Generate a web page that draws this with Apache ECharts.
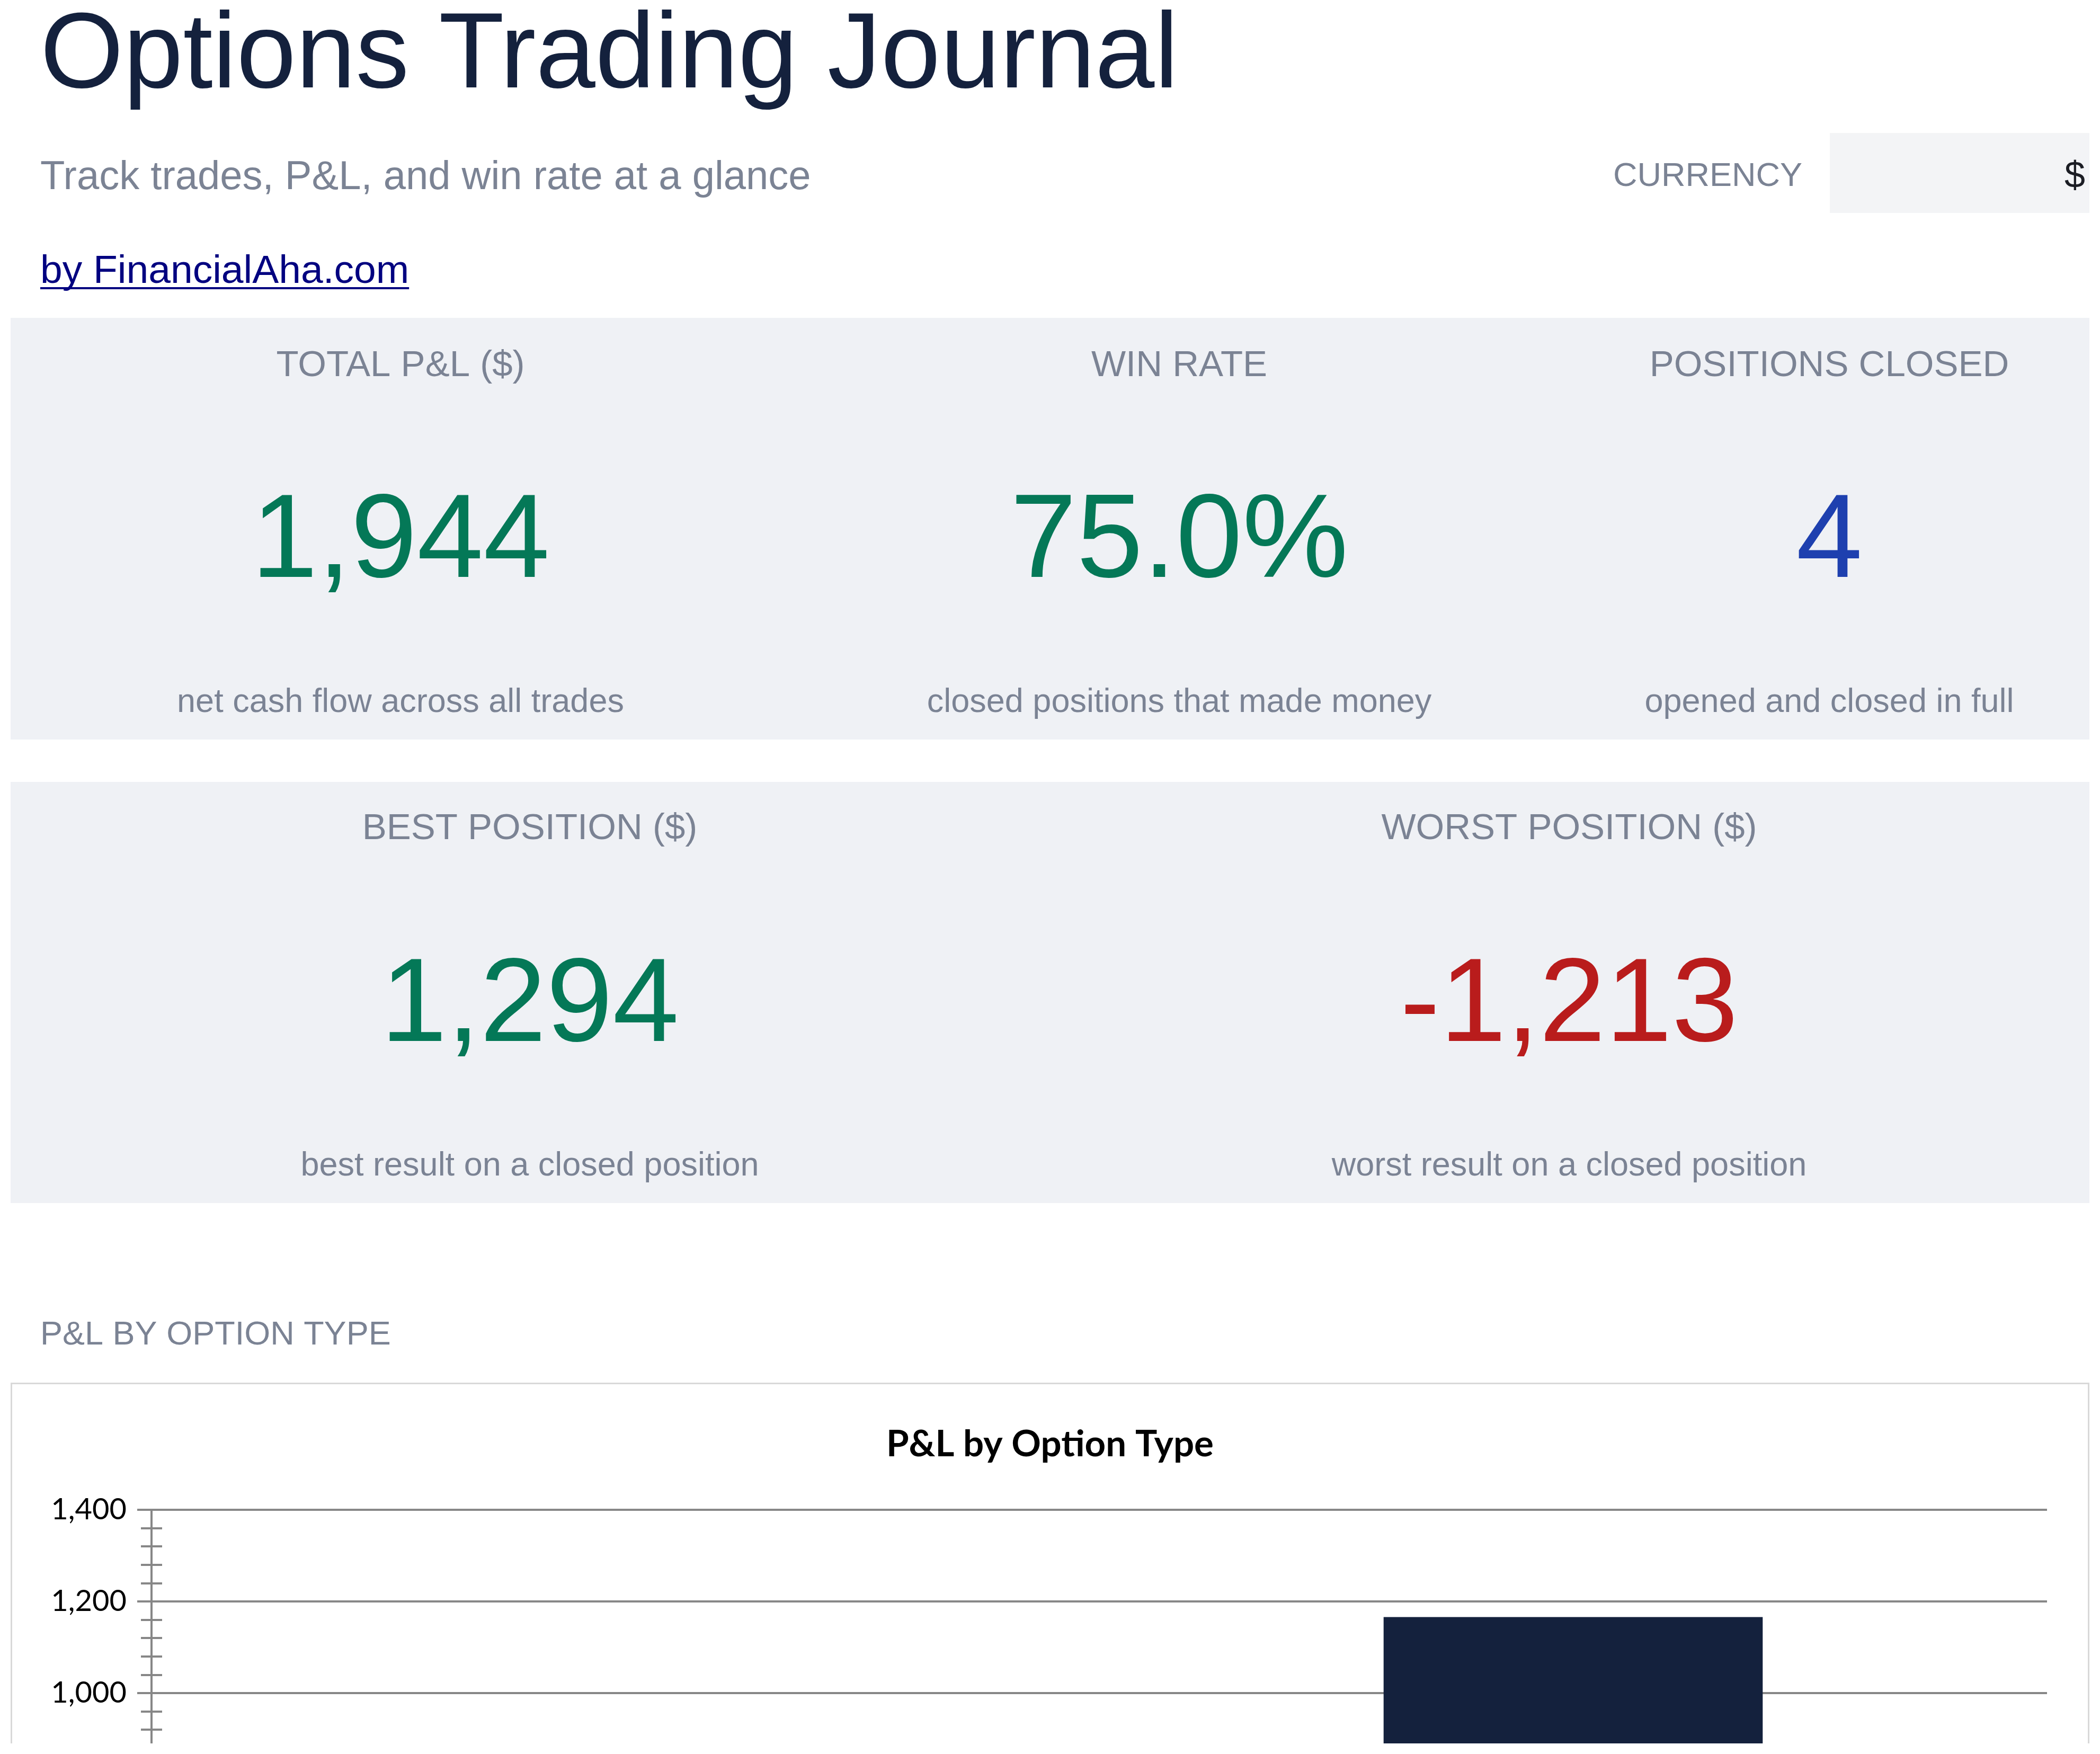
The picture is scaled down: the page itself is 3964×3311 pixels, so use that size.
<!DOCTYPE html>
<html>
<head>
<meta charset="utf-8">
<script src="https://cdn.jsdelivr.net/npm/echarts@6.0.0/dist/echarts.min.js"></script>
<style>
html,body{margin:0;padding:0;background:#ffffff;}
#c{width:3964px;height:3291px;}
</style>
</head>
<body>
<div id="c"></div>
<script>
// ---- data ----
const pageTitle = 'Options Trading Journal';
const pageSubtitle = 'Track trades, P&L, and win rate at a glance';
const currencyLabel = 'CURRENCY';
const currencySymbol = '$';
const linkText = 'by FinancialAha.com';
const kpiRow1Labels = ['TOTAL P&L ($)', 'WIN RATE', 'POSITIONS CLOSED'];
const kpiRow1Values = [1944, 75.0, 4];
const kpiRow1Kinds = ['money', 'pct', 'count'];
const kpiRow1Notes = ['net cash flow across all trades', 'closed positions that made money', 'opened and closed in full'];
const kpiRow2Labels = ['BEST POSITION ($)', 'WORST POSITION ($)'];
const kpiRow2Values = [1294, -1213];
const kpiRow2Kinds = ['money', 'money'];
const kpiRow2Notes = ['best result on a closed position', 'worst result on a closed position'];
const sectionLabel = 'P&L BY OPTION TYPE';
const chartTitle = 'P&L by Option Type';
const optionTypes = ['Call', 'Put'];
const pnlByType = [778, 1166];

// ---- styles ----
const SANS = "'Liberation Sans', Arial, sans-serif";
const GRAY = '#7b8394';
const GREEN = '#047857';
const RED = '#b91c1c';
const BLUE = '#1e40af';
const NAVY = '#14213d';
const AXIS = '#878787';

function fmtValue(v, kind) {
  if (kind === 'pct') return v.toFixed(1) + '%';
  if (kind === 'count') return String(v);
  return v.toLocaleString('en-US');
}
function valueColor(v, kind) {
  if (kind === 'count') return BLUE;
  return v < 0 ? RED : GREEN;
}
function txt(text, x, y, size, color, align, weight, family) {
  return {
    type: 'text', x: x, y: y, silent: true,
    style: {
      text: text, fontSize: size, fontFamily: family || SANS, fontWeight: weight || 'normal',
      fill: color, align: align || 'left', textAlign: align || 'left',
      verticalAlign: 'middle', textVerticalAlign: 'middle'
    }
  };
}

// measure link width for underline
const LINK_SIZE = 75;
const mctx = document.createElement('canvas').getContext('2d');
mctx.font = LINK_SIZE + "px " + SANS;
const linkWidth = mctx.measureText(linkText).width;

const graphics = [];
// header
graphics.push(txt(pageTitle, 76, 109, 202, NAVY));
graphics.push(txt(pageSubtitle, 76, 336, 76, GRAY));
graphics.push(txt(currencyLabel, 3045, 334, 63, GRAY));
graphics.push({ type: 'rect', shape: { x: 3454, y: 251, width: 490, height: 151 }, style: { fill: '#f3f4f6' }, silent: true });
graphics.push(txt(currencySymbol, 3936, 335, 70, '#1b1d24', 'right'));
graphics.push(txt(linkText, 76, 513, LINK_SIZE, '#000080'));
graphics.push({ type: 'rect', shape: { x: 76, y: 542, width: linkWidth, height: 4 }, style: { fill: '#000080' }, silent: true });

// KPI row 1
graphics.push({ type: 'rect', shape: { x: 20, y: 600, width: 3924, height: 796 }, style: { fill: '#eff1f5' }, silent: true, z: -1 });
const row1Centers = [756, 2226, 3453];
kpiRow1Labels.forEach(function (lab, i) {
  graphics.push(txt(lab, row1Centers[i], 691, 69, GRAY, 'center'));
  graphics.push(txt(fmtValue(kpiRow1Values[i], kpiRow1Kinds[i]), row1Centers[i], 1027, 225, valueColor(kpiRow1Values[i], kpiRow1Kinds[i]), 'center'));
  graphics.push(txt(kpiRow1Notes[i], row1Centers[i], 1327, 63, GRAY, 'center'));
});
// KPI row 2
graphics.push({ type: 'rect', shape: { x: 20, y: 1476, width: 3924, height: 795 }, style: { fill: '#eff1f5' }, silent: true, z: -1 });
const row2Centers = [1000, 2962];
kpiRow2Labels.forEach(function (lab, i) {
  graphics.push(txt(lab, row2Centers[i], 1565, 69, GRAY, 'center'));
  graphics.push(txt(fmtValue(kpiRow2Values[i], kpiRow2Kinds[i]), row2Centers[i], 1903, 225, valueColor(kpiRow2Values[i], kpiRow2Kinds[i]), 'center'));
  graphics.push(txt(kpiRow2Notes[i], row2Centers[i], 2202, 63, GRAY, 'center'));
});

// chart section
graphics.push(txt(sectionLabel, 76, 2521, 63, GRAY));
graphics.push({ type: 'rect', shape: { x: 21.5, y: 2611.5, width: 3921, height: 800 }, style: { fill: 'none', stroke: '#d9d9d9', lineWidth: 3 }, silent: true, z: -1 });

const chart = echarts.init(document.getElementById('c'), null, { renderer: 'canvas' });
const tickStyle = { color: AXIS, width: 4 };
chart.setOption({
  animation: false,
  backgroundColor: '#ffffff',
  title: {
    text: chartTitle, left: 'center', top: 2692, padding: 0,
    textStyle: { fontFamily: 'Lato', fontWeight: 'bold', fontSize: 69, color: '#000000' }
  },
  grid: { left: 286, top: 2850, width: 3578, height: 1211, containLabel: false, outerBoundsMode: 'none' },
  xAxis: {
    type: 'category', data: optionTypes,
    axisLine: { show: true, lineStyle: tickStyle },
    axisTick: { show: false },
    axisLabel: { fontFamily: 'Lato', fontSize: 56, color: '#000' }
  },
  yAxis: [
    {
      type: 'value', min: 0, max: 1400, interval: 200, position: 'left',
      axisLine: { show: true, lineStyle: tickStyle },
      axisTick: { show: true, inside: false, length: 27, lineStyle: tickStyle },
      minorTick: { show: true, splitNumber: 5, length: 20, lineStyle: tickStyle },
      splitLine: { show: true, lineStyle: tickStyle },
      axisLabel: {
        fontFamily: 'Lato', fontSize: 56, color: '#000000', margin: 47,
        formatter: function (v) { return v.toLocaleString('en-US'); }
      }
    },
    {
      type: 'value', min: 0, max: 1400, interval: 200, position: 'left',
      axisLine: { show: false },
      axisTick: { show: false, inside: true },
      minorTick: { show: true, splitNumber: 5, length: 20, lineStyle: tickStyle },
      splitLine: { show: false },
      axisLabel: { show: false }
    }
  ],
  series: [{
    type: 'bar', name: 'P&L', data: pnlByType, yAxisIndex: 0,
    barWidth: '40%', itemStyle: { color: NAVY }
  }],
  graphic: { elements: graphics }
});
</script>
</body>
</html>
